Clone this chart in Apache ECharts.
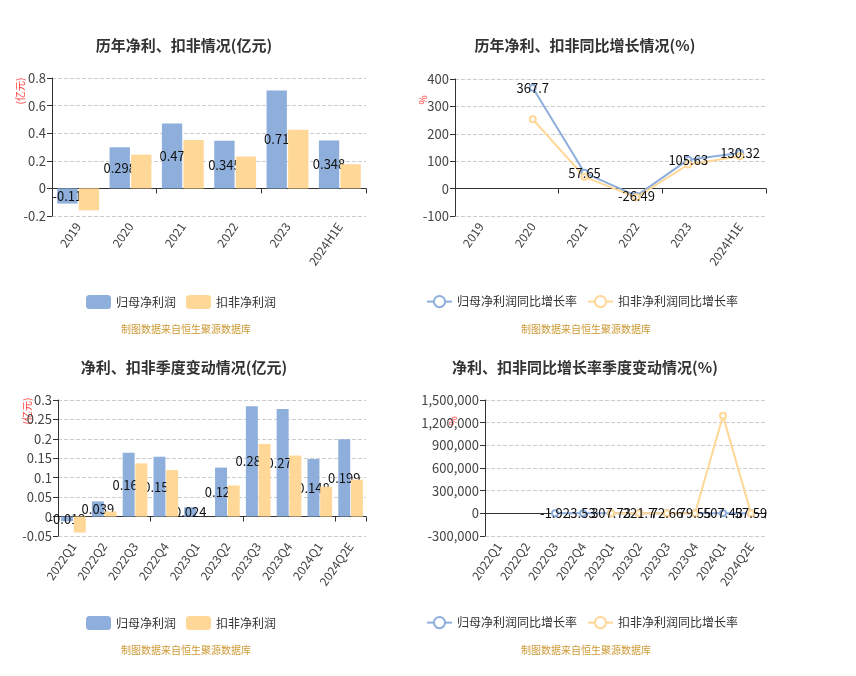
<!DOCTYPE html>
<html>
<head>
<meta charset="utf-8">
<script src="https://cdn.jsdelivr.net/npm/echarts@6/dist/echarts.min.js"></script>
<style>
html,body{margin:0;padding:0;background:#fff;}
#c{width:856px;height:676px;}
</style>
</head>
<body>
<div id="c"></div>
<script>
// ---- data ----
const years = ['2019', '2020', '2021', '2022', '2023', '2024H1E'];
const annualNet = [-0.11, 0.298, 0.47, 0.345, 0.71, 0.348];
const annualDeducted = [-0.159, 0.245, 0.35, 0.231, 0.425, 0.175];
const annualNetGrowth = [null, 367.7, 57.65, -26.49, 105.63, 130.32];
const annualDeductedGrowth = [null, 253, 43, -32, 88, 118];

const quarters = ['2022Q1', '2022Q2', '2022Q3', '2022Q4', '2023Q1', '2023Q2', '2023Q3', '2023Q4', '2024Q1', '2024Q2E'];
const quarterNet = [-0.012, 0.039, 0.164, 0.154, 0.024, 0.126, 0.284, 0.277, 0.148, 0.199];
const quarterDeducted = [-0.041, 0.013, 0.137, 0.12, 0.0001, 0.08, 0.187, 0.157, 0.077, 0.095];
const quarterNetGrowth = [null, null, -1.92, 3.53, 307.73, 221.7, 72.66, 79.55, 507.43, 57.59];
const quarterDeductedGrowth = [null, null, null, null, 100.03, 523.08, 36.5, 31.93, 1290000, 18.5];

const titles = ['历年净利、扣非情况(亿元)', '历年净利、扣非同比增长情况(%)', '净利、扣非季度变动情况(亿元)', '净利、扣非同比增长率季度变动情况(%)'];
const sourceText = '制图数据来自恒生聚源数据库';
const netName = '归母净利润';
const dedName = '扣非净利润';
const netGrowthName = '归母净利润同比增长率';
const dedGrowthName = '扣非净利润同比增长率';

// ---- style ----
const FONT = '"Noto Sans CJK SC", "Noto Sans", sans-serif';
const BLUE = '#8EAEDB';
const YELLOW = '#FFD796';
const grids = [
  {left: 52, top: 78, width: 314, height: 138},
  {left: 455, top: 79, width: 311, height: 137},
  {left: 58, top: 400, width: 308, height: 136},
  {left: 485, top: 400, width: 280, height: 136}
];
const yRanges = [[-0.2, 0.8, 0.2], [-100, 400, 100], [-0.05, 0.3, 0.05], [-300000, 1500000, 300000]];
const cats = [years, years, quarters, quarters];

const xAxes = [];
const yAxes = [];
cats.forEach((c, i) => {
  xAxes.push({
    type: 'category', gridIndex: i, data: c, position: 'bottom',
    axisLine: {show: false, onZero: false},
    axisTick: {show: false},
    axisLabel: {rotate: 55, color: '#444', fontSize: 12, fontFamily: FONT, margin: 8, interval: 0}
  });
  xAxes.push({
    type: 'category', gridIndex: i, data: c, position: 'bottom',
    axisLine: {show: true, onZero: true, lineStyle: {color: '#333', width: 1}},
    axisTick: {show: true, length: 5, lineStyle: {color: '#333'}},
    axisLabel: {show: false}
  });
  yAxes.push({
    type: 'value', gridIndex: i,
    min: yRanges[i][0], max: yRanges[i][1], interval: yRanges[i][2],
    axisLine: {show: true, lineStyle: {color: '#333'}},
    axisTick: {show: true, length: 5, lineStyle: {color: '#333'}},
    axisLabel: {color: '#444', fontSize: 13, fontFamily: FONT, margin: 6},
    splitLine: {show: true, lineStyle: {type: 'dashed', color: '#ccc'}}
  });
});

const labelStyle = {show: true, position: 'inside', color: '#111', fontSize: 13, fontFamily: FONT};

function barSeries(name, data, xi, yi, color, withLabel, z) {
  return {
    type: 'bar', name: name, data: data, xAxisIndex: xi, yAxisIndex: yi,
    barCategoryGap: '20%', barGap: '6%', z: z,
    itemStyle: {color: color},
    label: withLabel ? labelStyle : {show: false}
  };
}
function lineSeries(name, data, xi, yi, color, withLabel) {
  return {
    type: 'line', name: name, data: data, xAxisIndex: xi, yAxisIndex: yi,
    symbol: 'emptyCircle', symbolSize: 6,
    lineStyle: {color: color, width: 2},
    itemStyle: {color: color},
    label: withLabel ? labelStyle : {show: false}
  };
}

const titleCenters = [[179, 33], [580, 33], [179, 355], [580, 355]];
const titleOpts = titles.map((t, i) => ({
  text: t, left: titleCenters[i][0], top: titleCenters[i][1], textAlign: 'center',
  textStyle: {fontSize: 15, fontWeight: 'bold', color: '#333', fontFamily: FONT}
}));
const srcPos = [[181, 319], [581, 319], [181, 640], [581, 640]];
srcPos.forEach(p => titleOpts.push({
  text: sourceText, left: p[0], top: p[1], textAlign: 'center',
  textStyle: {fontSize: 10, fontWeight: 'normal', color: '#CC9933', fontFamily: FONT}
}));

const legendBase = {itemWidth: 25, itemHeight: 14, itemGap: 10, textStyle: {fontSize: 12, color: '#333', fontFamily: FONT}};
const legends = [
  Object.assign({data: [netName, dedName], left: 81, top: 290}, legendBase),
  Object.assign({data: [netGrowthName, dedGrowthName], left: 421, top: 290}, legendBase),
  Object.assign({data: [netName, dedName], left: 81, top: 611}, legendBase),
  Object.assign({data: [netGrowthName, dedGrowthName], left: 421, top: 611}, legendBase)
];

const unitPos = [['(亿元)', 20, 91], ['%', 423, 100], ['(亿元)', 27, 411], ['%', 453, 421]];
const graphics = unitPos.map(u => ({
  type: 'text', x: u[1], y: u[2], rotation: Math.PI / 2,
  style: {text: u[0], fill: '#FF3B3B', font: '10px ' + FONT, align: 'center', verticalAlign: 'middle'}
}));

const option = {
  backgroundColor: '#fff',
  animation: false,
  title: titleOpts,
  legend: legends,
  grid: grids,
  xAxis: xAxes,
  yAxis: yAxes,
  graphic: graphics,
  series: [
    barSeries(netName, annualNet, 0, 0, BLUE, true, 2),
    barSeries(dedName, annualDeducted, 0, 0, YELLOW, false, 3),
    lineSeries(netGrowthName, annualNetGrowth, 2, 1, BLUE, true),
    lineSeries(dedGrowthName, annualDeductedGrowth, 2, 1, YELLOW, false),
    barSeries(netName, quarterNet, 4, 2, BLUE, true, 2),
    barSeries(dedName, quarterDeducted, 4, 2, YELLOW, false, 3),
    lineSeries(netGrowthName, quarterNetGrowth, 6, 3, BLUE, true),
    lineSeries(dedGrowthName, quarterDeductedGrowth, 6, 3, YELLOW, false)
  ]
};
const chart = echarts.init(document.getElementById('c'));
chart.setOption(option);
</script>
</body>
</html>
